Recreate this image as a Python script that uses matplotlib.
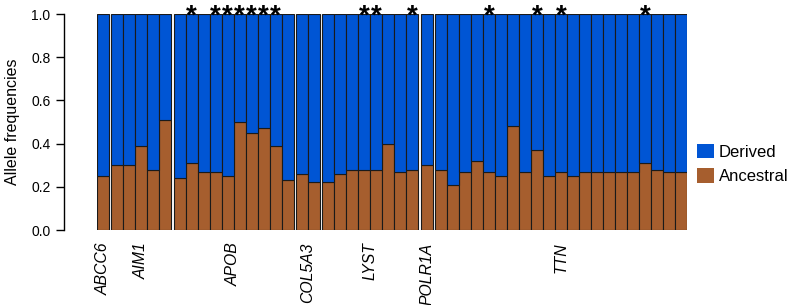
"""Allele frequency stacked bars per variant, grouped by gene; * marks significant sites."""

import matplotlib.pyplot as plt
from matplotlib.patches import Patch

plt.rcParams["font.family"] = ["Liberation Sans", "DejaVu Sans"]

DERIVED_COLOR = "#0055D4"
ANCESTRAL_COLOR = "#A65E2E"

genes = ["ABCC6", "AIM1", "APOB", "COL5A3", "LYST", "POLR1A", "TTN"]

# ancestral allele frequency of each variant, per gene
abcc6 = [0.25]
aim1 = [0.30, 0.30, 0.39, 0.28, 0.51]
apob = [0.24, 0.31, 0.27, 0.27, 0.25, 0.50, 0.45, 0.47, 0.39, 0.23]
col5a3 = [0.26, 0.22]
lyst = [0.22, 0.26, 0.28, 0.28, 0.28, 0.40, 0.27, 0.28]
polr1a = [0.30]
ttn = [0.28, 0.21, 0.27, 0.32, 0.27, 0.25, 0.48, 0.27, 0.37, 0.25, 0.27,
       0.25, 0.27, 0.27, 0.27, 0.27, 0.27, 0.31, 0.28, 0.27, 0.27]

# 1-based index of starred variants within each gene
apob_sig = [2, 4, 5, 6, 7, 8, 9]
lyst_sig = [4, 5, 8]
ttn_sig = [5, 9, 11, 18]

groups = [abcc6, aim1, apob, col5a3, lyst, polr1a, ttn]
sig = [[], [], apob_sig, [], lyst_sig, [], ttn_sig]


def main() -> None:
    gap = 0.2
    xs, anc, centers, stars = [], [], [], []
    pos = 0.0
    for values, marks in zip(groups, sig):
        start = pos
        for i, v in enumerate(values, start=1):
            xs.append(pos)
            anc.append(v)
            if i in marks:
                stars.append(pos)
            pos += 1
        centers.append((start + pos - 1) / 2)
        pos += gap
    der = [1 - v for v in anc]

    fig = plt.figure(figsize=(7.87, 3.05), dpi=100)
    ax = fig.add_axes([97 / 787, 75 / 305, 590 / 787, 216 / 305])

    ax.bar(xs, anc, width=1, color=ANCESTRAL_COLOR, edgecolor="#1a1a1a", linewidth=0.8)
    ax.bar(xs, der, width=1, bottom=anc, color=DERIVED_COLOR, edgecolor="#1a1a1a", linewidth=0.8)

    for x in stars:
        ax.text(x, 0.955, "*", ha="center", va="baseline", fontsize=20,
                fontweight="bold", clip_on=False)

    ax.set_xlim(xs[0] - 0.5, xs[-1] + 0.5)
    ax.set_ylim(0, 1)
    ax.set_yticks([0, 0.2, 0.4, 0.6, 0.8, 1.0])
    ax.set_yticklabels(["0.0", "0.2", "0.4", "0.6", "0.8", "1.0"], fontsize=10.5)
    ax.set_ylabel("Allele frequencies", fontsize=11.5, labelpad=8)
    ax.set_xticks(centers)
    ax.set_xticklabels(genes, rotation=90, fontsize=11.3, style="italic")
    ax.tick_params(axis="x", length=0, pad=9)
    ax.tick_params(axis="y", length=6, width=1)

    for side in ["top", "right", "bottom"]:
        ax.spines[side].set_visible(False)
    ax.spines["left"].set_position(("outward", 24))
    ax.spines["left"].set_linewidth(1)

    handles = [Patch(facecolor=DERIVED_COLOR), Patch(facecolor=ANCESTRAL_COLOR)]
    ax.legend(handles, ["Derived", "Ancestral"], loc="center left",
              bbox_to_anchor=(1.017, 0.306), frameon=False, fontsize=12,
              handlelength=1.0, handleheight=1.0, handletextpad=0.3,
              labelspacing=0.5, borderpad=0, borderaxespad=0)

    fig.savefig("out.png", dpi=100)
    plt.close(fig)


if __name__ == "__main__":
    main()
